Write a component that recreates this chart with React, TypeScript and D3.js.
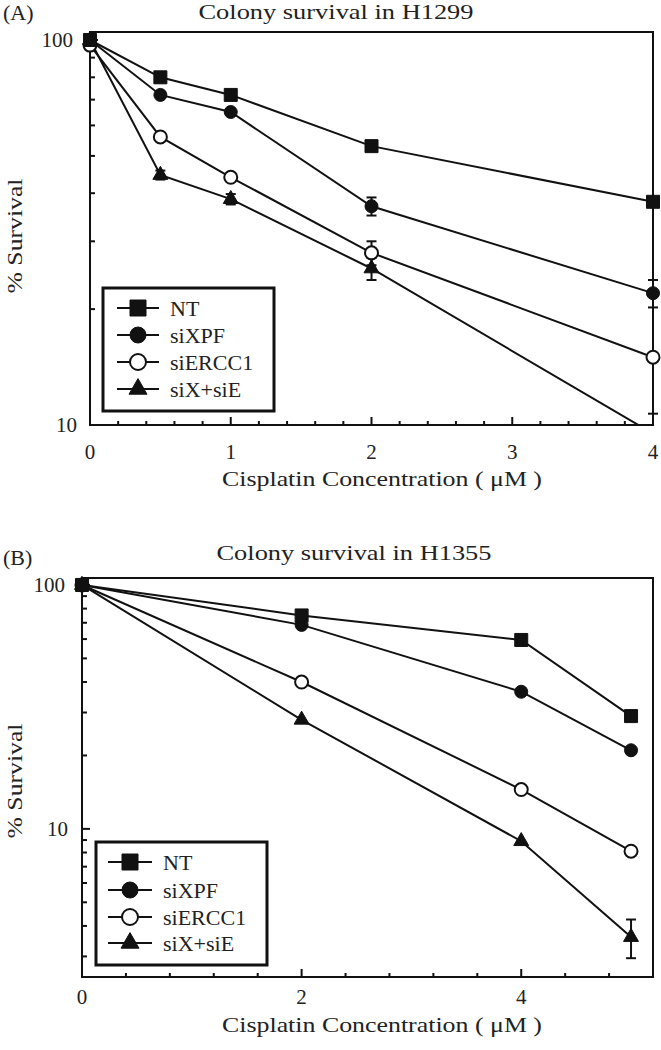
import * as d3 from 'd3';

// series names and marker styles
const seriesNames = ['NT', 'siXPF', 'siERCC1', 'siX+siE'];

// Panel A: H1299
const doseA = [0, 0.5, 1, 2, 4];
const ntA = [100, 80, 72, 53, 38];
const sixpfA = [100, 72, 65, 37, 22];
const siercc1A = [97, 56, 44, 28, 15];
const sixseA = [100, 44.6, 38.6, 25.5, 9.5];
const errNtA = [0, 0, 0, 0, 0];
const errSixpfA = [0, 0, 0, 2, 1.8];
const errSiercc1A = [0, 0, 0, 2, 0];
const errSixseA = [0, 1.2, 1.2, 1.7, 1.2];

// Panel B: H1355
const doseB = [0, 2, 4, 5];
const ntB = [100, 75, 59.5, 29];
const sixpfB = [100, 68.6, 36.5, 21];
const siercc1B = [100, 40, 14.5, 8.1];
const sixseB = [100, 28, 8.9, 3.6];
const errNtB = [0, 0, 0, 0];
const errSixpfB = [0, 0, 0, 0];
const errSiercc1B = [0, 0, 0, 0];
const errSixseB = [0, 0, 0, 0.65];

const xTicksA = [0, 1, 2, 3, 4];
const xTicksB = [0, 2, 4];

const FONT = 'Liberation Serif, Times New Roman, Times, serif';

const markerPath = (i, size) => {
  const types = [d3.symbolSquare, d3.symbolCircle, d3.symbolCircle, d3.symbolTriangle];
  const areas = [size * size, Math.PI * (size / 2) ** 2, Math.PI * (size / 2) ** 2, (size + 2) ** 2 * Math.sqrt(3) / 4];
  return d3.symbol(types[i], areas[i])();
};

const Marker = ({ i, x, y, size }) => (
  <path
    d={markerPath(i, size)}
    transform={`translate(${x},${y})`}
    fill={i === 2 ? '#fff' : '#111'}
    stroke="#111"
    strokeWidth={i === 2 ? 2 : 1}
  />
);

const Panel = ({ id, label, title, titleX, titleY, doses, series, errors, xMax, majorX, minorStep,
  box, yMin, yMax, yLabelY, legend, xLabelY, xTitleY, yTickLabelX }) => {
  const x = d3.scaleLinear().domain([0, xMax]).range([box.left, box.right]);
  const y = d3.scaleLog().domain([yMin, yMax]).range([box.bottom, box.top]);

  const minorX = d3.range(0, xMax + 1e-9, minorStep).filter(v => !majorX.some(m => Math.abs(m - v) < 1e-6));
  const minorY = [2, 3, 4, 5, 6, 7, 8, 9, 20, 30, 40, 50, 60, 70, 80, 90].filter(v => v > yMin && v < yMax);
  const majorY = [10, 100];

  const line = d3.line().x(d => x(d[0])).y(d => y(d[1]));
  const order = [3, 2, 1, 0];

  return (
    <g style={{ fontFamily: FONT }}>
      <defs>
        <clipPath id={`clip-${id}`}>
          <rect x={box.left - 20} y={box.top - 20} width={box.right - box.left + 40} height={box.bottom - box.top + 20} />
        </clipPath>
      </defs>
      <text x={label.x} y={label.y} fontSize={22} fill="#222">{label.text}</text>
      <text x={titleX} y={titleY} fontSize={22} textAnchor="middle" textLength={275}
        lengthAdjust="spacingAndGlyphs" fill="#222">{title}</text>

      {/* frame */}
      <rect x={box.left} y={box.top} width={box.right - box.left} height={box.bottom - box.top}
        fill="none" stroke="#111" strokeWidth={2} />

      {/* x ticks (inward) */}
      {minorX.map(v => (
        <line key={`mx${v}`} x1={x(v)} x2={x(v)} y1={box.bottom} y2={box.bottom - 4} stroke="#111" strokeWidth={2} />
      ))}
      {majorX.map(v => (
        <g key={`Mx${v}`}>
          <line x1={x(v)} x2={x(v)} y1={box.bottom} y2={box.bottom - 8} stroke="#111" strokeWidth={2} />
          <text x={x(v)} y={xLabelY} fontSize={21} textAnchor="middle" fill="#222">{v}</text>
        </g>
      ))}
      <text x={382} y={xTitleY} fontSize={21} textAnchor="middle" textLength={320}
        lengthAdjust="spacingAndGlyphs" fill="#222">Cisplatin Concentration ( μM )</text>

      {/* y ticks (inward) */}
      {minorY.map(v => (
        <line key={`my${v}`} x1={box.left} x2={box.left + 5} y1={y(v)} y2={y(v)} stroke="#111" strokeWidth={2} />
      ))}
      {majorY.map(v => (
        <g key={`My${v}`}>
          <line x1={box.left} x2={box.left + 8} y1={y(v)} y2={y(v)} stroke="#111" strokeWidth={2} />
          <text x={yTickLabelX[v]} y={y(v) + 7} fontSize={21} textAnchor="end" fill="#222">{v}</text>
        </g>
      ))}
      <text transform={`translate(22,${yLabelY}) rotate(-90)`} fontSize={22}
        textAnchor="middle" textLength={115} lengthAdjust="spacingAndGlyphs" fill="#222">% Survival</text>

      {/* series */}
      <g clipPath={`url(#clip-${id})`}>
        {order.map(si => (
          <path key={`l${si}`} d={line(doses.map((d, k) => [d, series[si][k]]))} fill="none" stroke="#111" strokeWidth={2} />
        ))}
        {order.map(si => doses.map((d, k) => {
          const e = errors[si][k];
          if (!e) return null;
          const cx = x(d);
          const y1 = y(series[si][k] + e);
          const y2 = y(series[si][k] - e);
          return (
            <g key={`e${si}-${k}`} stroke="#111" strokeWidth={2}>
              <line x1={cx} x2={cx} y1={y1} y2={y2} />
              <line x1={cx - 5} x2={cx + 5} y1={y1} y2={y1} />
              <line x1={cx - 5} x2={cx + 5} y1={y2} y2={y2} />
            </g>
          );
        }))}
        {order.map(si => doses.map((d, k) => (
          <Marker key={`m${si}-${k}`} i={si} x={x(d)} y={y(series[si][k])} size={13} />
        )))}
      </g>

      {/* legend */}
      <rect x={legend.x} y={legend.y} width={legend.w} height={legend.h} fill="#fff" stroke="#111" strokeWidth={3} />
      {seriesNames.map((name, i) => {
        const ly = legend.rows[i];
        return (
          <g key={name}>
            <line x1={legend.lineX0} x2={legend.lineX1} y1={ly} y2={ly} stroke="#111" strokeWidth={2} />
            <Marker i={i} x={(legend.lineX0 + legend.lineX1) / 2} y={ly} size={16} />
            <text x={legend.textX} y={ly + 8} fontSize={22} fill="#222">{name}</text>
          </g>
        );
      })}
    </g>
  );
};

export default function App() {
  return (
    <svg width={661} height={1050} style={{ position: 'absolute', left: 0, top: 0, background: '#fff' }}>
      <rect width={661} height={1050} fill="#fff" />
      <Panel
        id="a"
        label={{ text: '(A)', x: 3, y: 20 }}
        title="Colony survival  in H1299"
        titleX={336}
        titleY={19}
        doses={doseA}
        series={[ntA, sixpfA, siercc1A, sixseA]}
        errors={[errNtA, errSixpfA, errSiercc1A, errSixseA]}
        xMax={4}
        majorX={xTicksA}
        minorStep={0.2}
        box={{ left: 90, right: 653, top: 32, bottom: 425 }}
        yMin={10}
        yMax={104.9}
        yLabelY={236}
        yTickLabelX={{ 10: 77, 100: 73 }}
        xLabelY={459}
        xTitleY={486}
        legend={{ x: 103, y: 288, w: 171, h: 123, rows: [308, 335, 362, 389], lineX0: 117, lineX1: 159, textX: 170 }}
      />
      <Panel
        id="b"
        label={{ text: '(B)', x: 3, y: 565 }}
        title="Colony survival  in H1355"
        titleX={354}
        titleY={560}
        doses={doseB}
        series={[ntB, sixpfB, siercc1B, sixseB]}
        errors={[errNtB, errSixpfB, errSiercc1B, errSixseB]}
        xMax={5.2}
        majorX={xTicksB}
        minorStep={0.4}
        box={{ left: 82, right: 653, top: 578, bottom: 977 }}
        yMin={2.47}
        yMax={106.8}
        yLabelY={781}
        yTickLabelX={{ 10: 68, 100: 65 }}
        xLabelY={1004}
        xTitleY={1032}
        legend={{ x: 96, y: 842, w: 171, h: 123, rows: [862, 890, 917, 943], lineX0: 108, lineX1: 152, textX: 163 }}
      />
    </svg>
  );
}
